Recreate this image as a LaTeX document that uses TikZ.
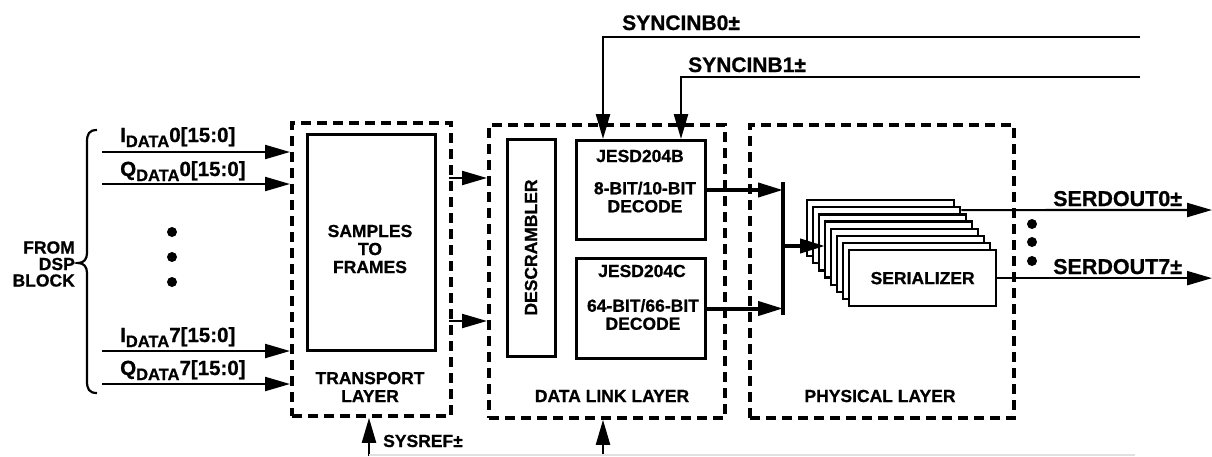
\documentclass[tikz,border=0pt]{standalone}
\usepackage{fontspec}
\setmainfont{Liberation Sans}[BoldFeatures={FakeBold=0.8}]
\usetikzlibrary{arrows.meta}
\newcommand{\datasub}{\raisebox{-5pt}{\fontsize{16.5}{16.5}\selectfont DATA}}
\begin{document}
\begin{tikzpicture}[x=1pt,y=-1pt,
  lbl/.style={font=\fontsize{17.5}{18}\selectfont\bfseries, align=center, inner sep=0pt},
  biglbl/.style={font=\fontsize{21}{22}\selectfont\bfseries, inner sep=0pt},
  inlbl/.style={font=\fontsize{20.5}{21}\selectfont\bfseries, inner sep=0pt, anchor=base west},
  layerbox/.style={draw, line width=3.8pt, dash pattern=on 10pt off 6pt, inner sep=0pt, anchor=north west},
  blk/.style={draw, line width=3pt, inner sep=0pt, anchor=north west},
  serbox/.style={draw, fill=white, line width=2.3pt, minimum width=147pt, minimum height=56pt, inner sep=0pt, anchor=north west},
  sig/.style={line width=2.2pt, -{Triangle[length=25pt,width=14pt]}},
  bus/.style={line width=4pt, -{Triangle[length=25pt,width=14pt]}},
  dot/.style={circle, fill, inner sep=0pt, minimum size=10pt}
]
\useasboundingbox (0,0) rectangle (1212,456);

% layer boxes
\node[layerbox, minimum width=159pt, minimum height=293pt] (tl) at (290,121) {};
\node[layerbox, minimum width=236pt, minimum height=293pt] (dl) at (487,123) {};
\node[layerbox, minimum width=264pt, minimum height=293pt] (pl) at (748,123) {};

% inner blocks
\node[blk, minimum width=128pt, minimum height=216pt] (sf) at (306,133) {};
\node[lbl] (sft) at (370,249) {SAMPLES\\TO\\FRAMES};
\node[lbl] (tlt) at (370,387) {TRANSPORT\\LAYER};

\node[blk, anchor=center, rotate=90, minimum width=217pt, minimum height=48pt, lbl] (ds) at (531,247.5) {DESCRAMBLER};
\node[blk, minimum width=129pt, minimum height=99pt] (jb) at (575,139) {};
\node[blk, minimum width=129pt, minimum height=100pt] (jc) at (575,257) {};
\node[lbl] (jbt) at (640,156) {JESD204B};
\node[lbl] (jbd) at (645,197) {8-BIT/10-BIT\\DECODE};
\node[lbl] (jct) at (642,271) {JESD204C};
\node[lbl] (jcd) at (643,314.5) {64-BIT/66-BIT\\DECODE};
\node[lbl] (dlt) at (612,396) {DATA LINK LAYER};
\node[lbl] (plt) at (880,396) {PHYSICAL LAYER};

% serializer stack
\foreach \i in {0,...,7} {
  \node[serbox] (s\i) at ({806+6*\i},{199+7.14*\i}) {};
}
\node[lbl] (sert) at (s7.center) {SERIALIZER};

% left inputs
\draw[line width=2.2pt] (97,130) .. controls (89,130) and (87,134) .. (87,142) -- (87,253)
  .. controls (87,259) and (84,263) .. (78,263) .. controls (84,263) and (87,267) .. (87,273)
  -- (87,381) .. controls (87,389) and (89,393) .. (97,393);
\node[lbl, align=right, anchor=east, font=\fontsize{17.5}{16.5}\selectfont\bfseries] (dsp) at (75,264) {FROM\\DSP\\BLOCK};

\coordinate (i0) at (102,152);
\coordinate (q0) at (102,184);
\coordinate (i7) at (102,351);
\coordinate (q7) at (102,384);
\draw[sig] (i0) -- (i0 -| tl.west);
\draw[sig] (q0) -- (q0 -| tl.west);
\draw[sig] (i7) -- (i7 -| tl.west);
\draw[sig] (q7) -- (q7 -| tl.west);
\node[inlbl] (li0) at (120,142) {I\datasub0[15:0]};
\node[inlbl] (lq0) at (120,176) {Q\datasub0[15:0]};
\node[inlbl] (li7) at (120,342) {I\datasub7[15:0]};
\node[inlbl] (lq7) at (120,375) {Q\datasub7[15:0]};
\node[dot] (d1) at (172,232) {};
\node[dot] (d2) at (172,257) {};
\node[dot] (d3) at (172,282) {};

% transport to data link
\coordinate (t1) at (449,178);
\coordinate (t2) at (449,321);
\draw[sig] (t1) -- (t1 -| dl.west);
\draw[sig] (t2) -- (t2 -| dl.west);

% sync inputs
\coordinate (sy0) at (1140,37);
\coordinate (sy1) at (1140,77);
\draw[sig, line width=2.6pt] (sy0) -| ([xshift=28pt]jb.north west);
\draw[sig, line width=2.6pt] (sy1) -| ([xshift=106pt]jb.north west);
\node[biglbl, anchor=base west] (syl0) at (622,30) {SYNCINB0±};
\node[biglbl, anchor=base west] (syl1) at (688,72) {SYNCINB1±};

% decoder outputs to bus bar
\coordinate (bt) at (783,182);
\coordinate (bb) at (783,315);
\draw[line width=4pt] (bt) -- (bb);
\draw[bus] (jb.east) -- (jb.east -| bt);
\draw[bus] (jc.east) -- (jc.east -| bt);
\coordinate (bm) at (783,246);
\coordinate (stk) at (825,246);
\draw[bus] (bm) -- (stk);

% serial outputs
\coordinate (o0) at ([yshift=-4pt]s1.north east);
\coordinate (e0) at (1212,210);
\draw[sig] (o0) -- (e0);
\draw[sig] (s7.east) -- (s7.east -| e0);
\node[biglbl, anchor=base west, font=\fontsize{21.5}{22}\selectfont\bfseries] (so0) at (1053,206) {SERDOUT0±};
\node[biglbl, anchor=base west, font=\fontsize{21.5}{22}\selectfont\bfseries] (so7) at (1053,274) {SERDOUT7±};
\node[dot] (e1) at (1032,224) {};
\node[dot] (e2) at (1032,242) {};
\node[dot] (e3) at (1032,261) {};

% sysref
\coordinate (sr) at (369,456);
\coordinate (sr2) at (603,456);
\draw[sig] (sr) -- (sr |- tl.south);
\draw[sig] (sr2) -- (sr2 |- dl.south);
\node[lbl, anchor=base west] (srl) at (383,447) {SYSREF±};
\coordinate (srb) at (369,455);
\coordinate (sre) at (1135,455);
\draw[black!12, line width=1.5pt] (srb) -- (sre);
\end{tikzpicture}
\end{document}
